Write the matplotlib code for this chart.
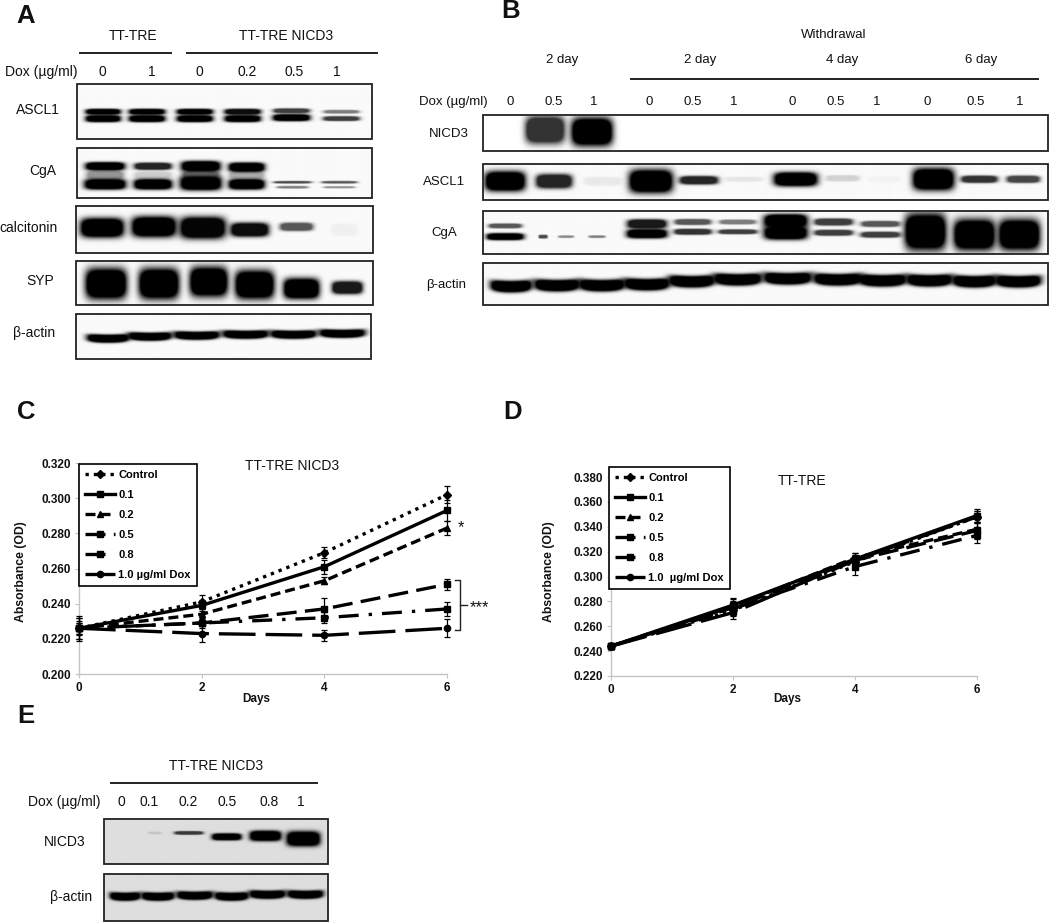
#!/usr/bin/env python3
"""
Western blot panels and growth curves (panels A-E)
"""

import numpy as np
import matplotlib
matplotlib.use('Agg')
import matplotlib.pyplot as plt
from matplotlib.patches import Rectangle

plt.rcParams['font.family'] = ['Liberation Sans', 'DejaVu Sans']

W, H = 1050, 922

# growth curves, panel C
days = [0, 2, 4, 6]
series_names = ['Control', '0.1', '0.2', '0.5', '0.8']
last_name_c = '1.0 µg/ml Dox'
last_name_d = '1.0  µg/ml Dox'

c_control = [0.226, 0.241, 0.269, 0.302]
c_01 = [0.226, 0.239, 0.261, 0.293]
c_02 = [0.226, 0.234, 0.253, 0.283]
c_05 = [0.226, 0.229, 0.237, 0.251]
c_08 = [0.226, 0.229, 0.232, 0.237]
c_10 = [0.226, 0.223, 0.222, 0.226]

c_control_err = [0.006, 0.004, 0.003, 0.005]
c_01_err = [0.006, 0.003, 0.004, 0.006]
c_02_err = [0.004, 0.003, 0.002, 0.004]
c_05_err = [0.003, 0.003, 0.006, 0.003]
c_08_err = [0.003, 0.005, 0.003, 0.004]
c_10_err = [0.007, 0.005, 0.003, 0.005]

# growth curves, panel D
d_control = [0.244, 0.273, 0.312, 0.348]
d_01 = [0.244, 0.277, 0.314, 0.349]
d_02 = [0.244, 0.276, 0.315, 0.338]
d_05 = [0.244, 0.275, 0.313, 0.337]
d_08 = [0.244, 0.274, 0.308, 0.333]
d_10 = [0.244, 0.271, 0.313, 0.348]

d_control_err = [0.002, 0.005, 0.004, 0.005]
d_01_err = [0.002, 0.005, 0.005, 0.005]
d_02_err = [0.002, 0.007, 0.004, 0.006]
d_05_err = [0.002, 0.005, 0.004, 0.007]
d_08_err = [0.002, 0.004, 0.007, 0.006]
d_10_err = [0.002, 0.005, 0.004, 0.005]

c_ticks = [0.200, 0.220, 0.240, 0.260, 0.280, 0.300, 0.320]
d_ticks = [0.220, 0.240, 0.260, 0.280, 0.300, 0.320, 0.340, 0.360, 0.380]

# dose labels
a_doses = ['0', '1', '0', '0.2', '0.5', '1']
b_doses = ['0', '0.5', '1', '0', '0.5', '1', '0', '0.5', '1', '0', '0.5', '1']
e_doses = ['0', '0.1', '0.2', '0.5', '0.8', '1']

# blot bands: (centre x, centre y, width, height, darkness)
a_ascl1 = [(103, 112, 32, 5, 1), (147, 112, 33, 5, 1), (195, 112, 33, 5, 1), (243, 112, 33, 5, .95),
           (292, 111, 33, 4, .75), (342, 112, 32, 3, .5),
           (103, 119, 32, 6, 1), (147, 119, 33, 6, 1), (195, 119, 33, 6, 1), (243, 119, 33, 6, 1),
           (292, 118, 34, 6, 1), (342, 119, 33, 4, .75)]
a_cga = [(105, 167, 36, 7, 1), (153, 167, 34, 6, .85), (201, 167, 36, 9, 1), (247, 168, 33, 8, 1),
         (105, 176, 34, 8, .4), (153, 176, 34, 6, .18), (201, 176, 34, 8, .55), (247, 176, 32, 6, .3),
         (105, 185, 38, 9, 1), (153, 185, 35, 9, 1), (201, 184, 38, 12, 1), (247, 185, 33, 9, 1),
         (293, 183, 34, 2, .7), (293, 188, 28, 2, .5), (340, 183, 32, 2, .65), (340, 188, 28, 1.6, .45)]
a_calc = [(102, 228, 40, 17, 1), (154, 227, 41, 18, 1), (203, 228, 42, 19, .98), (250, 230, 35, 12, .95),
          (297, 227, 30, 7, .65), (345, 230, 24, 10, .04)]
a_syp = [(106, 284, 38, 27, 1), (159, 284, 37, 27, 1), (209, 282, 35, 26, 1), (255, 285, 36, 25, 1),
         (302, 289, 33, 18, 1), (348, 288, 28, 11, .9)]
a_actin = [(108, 339, 39, 7, 1), (150, 337, 40, 7, 1), (197, 336, 42, 7, 1), (246, 335, 42, 7, 1),
           (294, 335, 42, 7, 1), (343, 334, 42, 7, 1)]

b_nicd3 = [(545, 130, 36, 24, .8), (592, 132, 38, 25, 1)]
b_ascl1 = [(505, 182, 37, 17, 1), (554, 182, 33, 12, .85), (603, 182, 34, 7, .07),
           (651, 182, 40, 20, 1), (699, 181, 35, 7, .85), (744, 180, 34, 4, .08),
           (796, 180, 40, 12, 1), (843, 179, 30, 5, .16), (885, 180, 28, 5, .03),
           (934, 180, 38, 19, 1), (980, 180, 33, 6, .8), (1024, 180, 30, 6, .72)]
b_cga = [(505, 226, 30, 4, .65), (505, 237, 34, 6, 1), (543, 237, 8, 3, .7), (566, 237, 14, 2, .45),
         (597, 237, 15, 2, .5),
         (647, 224, 36, 8, .9), (647, 234, 37, 8, 1), (693, 222, 33, 5, .65), (693, 232, 34, 5, .8),
         (738, 222, 33, 4, .5), (738, 232, 35, 4, .75), (786, 221, 40, 12, 1), (786, 233, 40, 12, 1),
         (834, 222, 35, 6, .75), (834, 233, 35, 5, .75), (881, 224, 35, 5, .65), (881, 235, 36, 5, .75),
         (926, 232, 38, 32, 1), (975, 235, 38, 27, 1), (1020, 235, 38, 27, 1)]
b_actin = [(511, 287, 38, 10, 1), (557, 286, 42, 10, 1), (602, 286, 42, 10, 1), (647, 285, 42, 10, 1),
           (692, 282, 42, 10, 1), (738, 280, 44, 10, 1), (788, 279, 44, 10, 1), (838, 280, 44, 10, 1),
           (883, 281, 44, 10, 1), (930, 281, 42, 10, 1), (975, 282, 40, 10, 1), (1019, 282, 42, 10, 1)]

e_nicd3 = [(155, 833, 12, 2, .12), (189, 833, 26, 3, .75), (227, 837, 27, 6, 1),
           (266, 836, 29, 9, 1), (304, 839, 31, 13, 1)]
e_actin = [(125, 897, 28, 7, 1), (158, 897, 30, 7, 1), (195, 896, 33, 7, 1),
           (232, 897, 31, 7, 1), (268, 895, 33, 7, 1), (306, 895, 33, 7, 1)]


def draw_blot(ax, box, bands, bg=0.98, bow=0.0):
    """Paint one blot as a grey image with a dark frame, box = (x0, y0, x1, y1) in pixels"""
    x0, y0, x1, y1 = box
    X, Y = np.meshgrid(np.arange(x0, x1 + 1.0, 0.5), np.arange(y0, y1 + 1.0, 0.5))
    light = np.ones_like(X)
    for cx, cy, w, h, s in bands:
        dx = (X - cx) / (w / 2.0)
        dy = (Y - cy + bow * dx ** 2) / (h / 2.0)
        # film saturates, so the middle of a band clips to flat black
        light *= 1 - s * np.minimum(1.0, 1.9 * np.exp(-0.7 * np.abs(dx) ** 5 - 0.7 * np.abs(dy) ** 3))
    ax.imshow(np.clip(light * bg, 0, 1), extent=(x0, x1, y1, y0), cmap='gray', vmin=0, vmax=1,
              aspect='auto', interpolation='bilinear', zorder=1)
    ax.add_patch(Rectangle((x0, y0), x1 - x0, y1 - y0, fill=False, edgecolor='#222222', lw=1.3, zorder=2))


def label(ax, x, y, text, size=10, **kw):
    ax.text(x, y, text, ha='center', va='center', fontsize=size, color='#111111', **kw)


def draw_growth(fig, rect, ydata, yerr, names, ticks, legend_box, days_xy, ylabel_xy):
    """One growth curve panel, rect = (left, top, right, bottom) in pixels"""
    left, top, right, bottom = rect
    ax = fig.add_axes([left / W, 1 - bottom / H, (right - left) / W, (bottom - top) / H])
    ax.patch.set_alpha(0)

    styles = [(0, (1, 1.5)), '-', (0, (3, 1.5)), (0, (6, 2.5)), (0, (6, 3, 1, 3)), (0, (11, 3))]
    markers = ['D', 's', '^', 's', 's', 'o']
    for vals, err, name, ls, mk in zip(ydata, yerr, names, styles, markers):
        ax.errorbar(days, vals, yerr=err, color='black', ls='none', elinewidth=0.9,
                    capsize=2.5, capthick=0.9, clip_on=False, zorder=3)
        ax.plot(days, vals, color='black', lw=2.4, ls=ls, marker=mk, ms=4.5, label=name,
                clip_on=False, zorder=4)

    ax.set_xlim(0, 6)
    ax.set_ylim(ticks[0], ticks[-1])
    ax.set_xticks(days)
    ax.set_yticks(ticks)
    ax.set_yticklabels(['%.3f' % t for t in ticks])
    for lab in ax.get_xticklabels() + ax.get_yticklabels():
        lab.set_fontweight('bold')
        lab.set_fontsize(8.5)
        lab.set_color('#111111')
    ax.tick_params(length=3, width=0.8, color='#c4c4c4', pad=3)
    for side in ['top', 'right']:
        ax.spines[side].set_visible(False)
    for side in ['left', 'bottom']:
        ax.spines[side].set_color('#c4c4c4')
        ax.spines[side].set_linewidth(1.0)

    lx, ly = legend_box
    leg = ax.legend(loc='upper left', bbox_to_anchor=(lx / W, 1 - ly / H), bbox_transform=fig.transFigure,
                    borderaxespad=0, fancybox=False, edgecolor='black', framealpha=1, numpoints=1,
                    prop={'weight': 'bold', 'size': 8}, handlelength=2.7, handletextpad=0.3,
                    labelspacing=0.89, borderpad=0.55)
    leg.get_frame().set_linewidth(1.2)
    leg.set_zorder(10)

    fig.text(days_xy[0] / W, 1 - days_xy[1] / H, 'Days', ha='center', va='center',
             fontsize=8.5, fontweight='bold', color='#111111')
    fig.text(ylabel_xy[0] / W, 1 - ylabel_xy[1] / H, 'Absorbance (OD)', ha='center', va='center',
             rotation=90, fontsize=8.8, fontweight='bold', color='#111111')
    return ax


def main():
    fig = plt.figure(figsize=(W / 100, H / 100), dpi=100)

    # full page axes in pixel coordinates for the blots and text
    page = fig.add_axes([0, 0, 1, 1])
    page.axis('off')

    # panel letters
    for x, y, t in [(26, 16, 'A'), (511, 11, 'B'), (26, 412, 'C'), (513, 412, 'D'), (26, 716, 'E')]:
        label(page, x, y, t, size=18.5, fontweight='bold')

    # panel A
    draw_blot(page, (77, 84, 372, 139), a_ascl1)
    draw_blot(page, (77, 148, 372, 198), a_cga)
    draw_blot(page, (76, 206, 373, 253), a_calc)
    draw_blot(page, (76, 261, 373, 305), a_syp)
    draw_blot(page, (76, 314, 371, 359), a_actin, bow=1.0)
    label(page, 133, 36, 'TT-TRE')
    label(page, 286, 36, 'TT-TRE NICD3')
    page.plot([80, 171], [53, 53], color='#222222', lw=1.4)
    page.plot([187, 377], [53, 53], color='#222222', lw=1.4)
    label(page, 41, 72, 'Dox (µg/ml)')
    for x, t in zip([102, 152, 199, 247, 294, 337], a_doses):
        label(page, x, 72, t)
    for x, y, t in [(38, 110, 'ASCL1'), (43, 171, 'CgA'), (28, 228, 'calcitonin'),
                    (40, 281, 'SYP'), (34, 333, 'β-actin')]:
        label(page, x, y, t)

    # panel B
    draw_blot(page, (483, 115, 1048, 151), b_nicd3, bg=1.0)
    draw_blot(page, (483, 164, 1048, 200), b_ascl1)
    draw_blot(page, (483, 211, 1048, 254), b_cga)
    draw_blot(page, (483, 263, 1048, 305), b_actin, bow=1.5)
    label(page, 834, 35, 'Withdrawal', size=9.5)
    for x, t in zip([562, 700, 842, 981], ['2 day', '2 day', '4 day', '6 day']):
        label(page, x, 60, t, size=9.5)
    page.plot([631, 1038], [79, 79], color='#222222', lw=1.4)
    label(page, 453, 102, 'Dox (µg/ml)', size=9.5)
    for x, t in zip([510, 554, 594, 649, 693, 734, 792, 836, 877, 927, 976, 1020], b_doses):
        label(page, x, 102, t, size=9.5)
    for x, y, t in [(449, 134, 'NICD3'), (444, 182, 'ASCL1'), (444, 233, 'CgA'), (446, 285, 'β-actin')]:
        label(page, x, y, t, size=9.5)

    # panel E
    draw_blot(page, (104, 819, 328, 864), e_nicd3, bg=0.87)
    draw_blot(page, (104, 874, 328, 921), e_actin, bg=0.87, bow=1.0)
    label(page, 216, 766, 'TT-TRE NICD3')
    page.plot([111, 317], [783, 783], color='#222222', lw=1.4)
    label(page, 64, 802, 'Dox (µg/ml)')
    for x, t in zip([121, 149, 188, 227, 269, 301], e_doses):
        label(page, x, 802, t)
    label(page, 65, 842, 'NICD3')
    label(page, 71, 897, 'β-actin')

    # annotations around the growth curves
    label(page, 292, 466, 'TT-TRE NICD3')
    label(page, 802, 481, 'TT-TRE')
    page.plot([455, 460, 460, 455], [580, 580, 630, 630], color='#222222', lw=1.0)
    page.plot([460, 467], [605, 605], color='#222222', lw=1.0)
    label(page, 479, 608, '***', size=12)
    label(page, 461, 528, '*', size=12)

    page.set_xlim(0, W)
    page.set_ylim(H, 0)

    # panels C and D
    c_data = [c_control, c_01, c_02, c_05, c_08, c_10]
    c_err = [c_control_err, c_01_err, c_02_err, c_05_err, c_08_err, c_10_err]
    draw_growth(fig, (79, 463, 447, 674), c_data, c_err, series_names + [last_name_c], c_ticks,
                (79, 464), (256, 699), (21, 572))

    d_data = [d_control, d_01, d_02, d_05, d_08, d_10]
    d_err = [d_control_err, d_01_err, d_02_err, d_05_err, d_08_err, d_10_err]
    draw_growth(fig, (611, 477, 977, 676), d_data, d_err, series_names + [last_name_d], d_ticks,
                (609, 467), (787, 699), (549, 572))

    fig.savefig('out.png', dpi=100)


if __name__ == "__main__":
    main()
